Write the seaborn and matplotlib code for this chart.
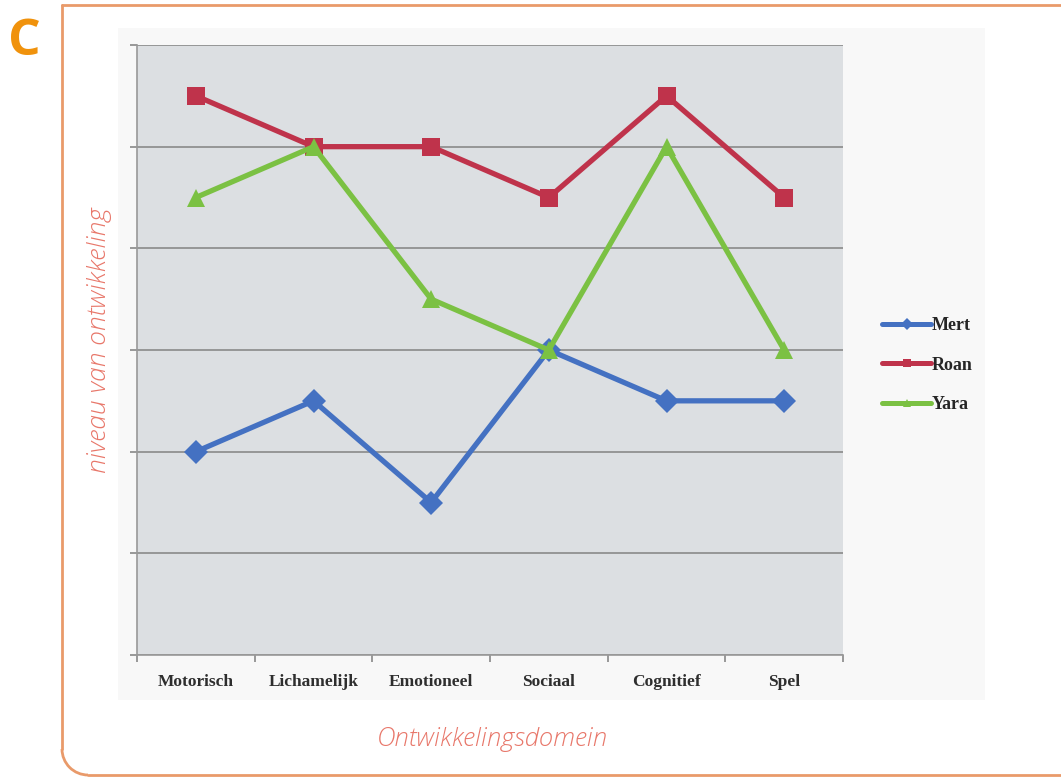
import numpy as np
import pandas as pd
import matplotlib
matplotlib.use("Agg")
import matplotlib.pyplot as plt
from matplotlib.lines import Line2D
from matplotlib.patches import Arc, Rectangle
import seaborn as sns

# data
domains = ["Motorisch", "Lichamelijk", "Emotioneel", "Sociaal", "Cognitief", "Spel"]
mert = [2.0, 2.5, 1.5, 3.0, 2.5, 2.5]
roan = [5.5, 5.0, 5.0, 4.5, 5.5, 4.5]
yara = [4.5, 5.0, 3.5, 3.0, 5.0, 3.0]
names = ["Mert", "Roan", "Yara"]

df = pd.DataFrame({
    "Domein": domains * 3,
    "Niveau": mert + roan + yara,
    "Kind": [n for n in names for _ in domains],
})

palette = {"Mert": "#4471c2", "Roan": "#bf334b", "Yara": "#7bc143"}
markers = {"Mert": "D", "Roan": "s", "Yara": "^"}

sns.set_style("white")
W, H = 1061, 777
fig = plt.figure(figsize=(W / 100, H / 100), dpi=100)


def fx(px):
    return px / W


def fy(py):
    return 1 - py / H


# light chart background
fig.patches.append(Rectangle((fx(118), fy(700)), fx(985) - fx(118), fy(28) - fy(700),
                             transform=fig.transFigure, facecolor="#f8f8f8",
                             edgecolor="none", zorder=-5))

# orange frame with rounded bottom-left corner
frame_col = "#e99a6a"
r = 26
fig.add_artist(Line2D([fx(62), fx(1070)], [fy(5), fy(5)], transform=fig.transFigure,
                      color=frame_col, lw=2))
fig.add_artist(Line2D([fx(62), fx(62)], [fy(5), fy(775 - r)], transform=fig.transFigure,
                      color=frame_col, lw=2))
fig.add_artist(Line2D([fx(62 + r), fx(1070)], [fy(775), fy(775)], transform=fig.transFigure,
                      color=frame_col, lw=2))
fig.add_artist(Arc((fx(62 + r), fy(775 - r)), 2 * r / W, 2 * r / H, theta1=180, theta2=270,
                   transform=fig.transFigure, color=frame_col, lw=2))

fig.text(fx(8), fy(42), "C", fontsize=37, fontweight="bold", color="#f0920c",
         family="Open Sans", va="center", ha="left")

ax = fig.add_axes([fx(137), fy(655), fx(843) - fx(137), fy(45) - fy(655)])
ax.set_zorder(2)
ax.set_facecolor("#dcdfe2")

sns.lineplot(data=df, x="Domein", y="Niveau", hue="Kind", style="Kind",
             palette=palette, markers=markers, dashes=False, sort=False,
             linewidth=3.8, markersize=12.5, markeredgewidth=0, ax=ax, legend=False)

ax.set_xlim(-0.5, 5.5)
ax.set_ylim(0, 6)
ax.set_yticks(range(0, 7))
ax.set_yticklabels([])
ax.yaxis.grid(True, color="#8a8a8a", lw=1.2)
ax.set_axisbelow(True)
ax.set_xticks(range(len(domains)))
ax.set_xticklabels(domains, fontsize=12.5, fontweight="bold", family="Liberation Serif",
                   color="#2e2e2e")
ax.set_xticks(np.arange(-0.5, 6, 1), minor=True)
ax.tick_params(axis="x", which="major", length=0, pad=14)
ax.tick_params(axis="x", which="minor", length=5, color="#888888", width=1.2, direction="out", bottom=True)
ax.tick_params(axis="y", length=5, color="#888888", width=1.2, direction="out", left=True)
for side in ["top", "right"]:
    ax.spines[side].set_visible(False)
ax.spines["left"].set_color("#999999")
ax.spines["bottom"].set_color("#999999")
ax.spines["left"].set_linewidth(1.2)
ax.spines["bottom"].set_linewidth(1.2)
ax.set_xlabel("")
ax.set_ylabel("")

fig.text(fx(100), fy(340), "niveau van ontwikkeling", rotation=90, fontsize=19,
         style="italic", color="#e8776a", family="Open Sans", fontweight="light",
         ha="center", va="center")
fig.text(fx(492), fy(740), "Ontwikkelingsdomein", fontsize=18.5, style="italic",
         color="#e8776a", family="Open Sans", fontweight="light", ha="center", va="center")

handles = [Line2D([], [], color=palette[n], marker=markers[n], lw=3.6, markersize=6,
                  markeredgewidth=0) for n in names]
leg = fig.legend(handles, names, loc="center left", bbox_to_anchor=(fx(866), fy(365)),
                 frameon=False, handlelength=2.7, handletextpad=0.05, labelspacing=1.25,
                 prop={"family": "Liberation Serif", "weight": "bold", "size": 13})

fig.savefig("out.png", dpi=100)
